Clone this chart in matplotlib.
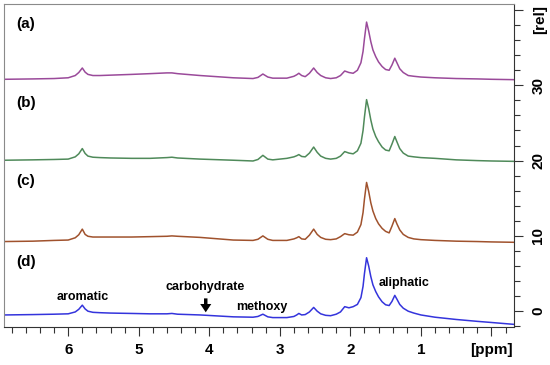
import matplotlib
matplotlib.use('Agg')
import matplotlib.pyplot as plt
from matplotlib.ticker import MultipleLocator, FixedLocator, FixedFormatter

plt.rcParams['font.family'] = ['Liberation Sans', 'DejaVu Sans']
plt.rcParams['font.weight'] = 'bold'

# 化学位移 (ppm)，四条谱线共用
ppm = [6.9, 6.5, 6.2, 6.0, 5.9, 5.85, 5.8, 5.76, 5.72, 5.65, 5.55, 5.4,
       5.1, 4.84, 4.6, 4.53, 4.45, 4.13, 3.66, 3.38, 3.31, 3.24, 3.17, 3.1,
       2.9, 2.8, 2.76, 2.73, 2.69, 2.64, 2.58, 2.52, 2.47, 2.42, 2.35, 2.28,
       2.2, 2.14, 2.08, 2.02, 1.96, 1.9, 1.85, 1.82, 1.8, 1.77,
       1.74, 1.71, 1.68, 1.64, 1.6, 1.55, 1.5, 1.45, 1.41, 1.37,
       1.34, 1.3, 1.25, 1.18, 1.1, 1.0, 0.8, 0.5, 0.2, 0.0, -0.32]

spec_a = [30.8, 30.85, 30.9, 31.0, 31.3, 31.7, 32.3, 31.75, 31.45, 31.3, 31.3, 31.35,
          31.45, 31.55, 31.65, 31.65, 31.55, 31.3, 31.0, 30.9, 31.05, 31.5, 31.1, 30.95,
          30.95, 31.2, 31.4, 31.6, 31.3, 31.15, 31.6, 32.3, 31.7, 31.3, 31.0, 30.9,
          31.0, 31.3, 31.9, 31.7, 31.6, 32.0, 33.0, 34.5, 36.2, 38.4,
          37.2, 35.8, 34.7, 33.8, 33.1, 32.5, 32.1, 32.0, 32.7, 33.6,
          33.0, 32.2, 31.7, 31.3, 31.2, 31.1, 31.0, 30.9, 30.85, 30.8, 30.75]

spec_b = [20.05, 20.1, 20.15, 20.2, 20.5, 20.9, 21.6, 20.95, 20.6, 20.45, 20.4, 20.35,
          20.3, 20.3, 20.4, 20.45, 20.35, 20.2, 20.05, 19.95, 20.15, 20.7, 20.2, 20.1,
          20.3, 20.5, 20.65, 20.8, 20.55, 20.5, 21.0, 21.8, 21.1, 20.6, 20.3, 20.2,
          20.3, 20.6, 21.2, 21.0, 20.9, 21.3, 22.3, 24.0, 25.8, 28.1,
          26.9, 25.4, 24.2, 23.2, 22.5, 21.8, 21.4, 21.3, 22.2, 23.2,
          22.5, 21.6, 21.0, 20.6, 20.5, 20.4, 20.3, 20.1, 20.0, 19.95, 19.9]

spec_c = [9.25, 9.3, 9.4, 9.45, 9.75, 10.15, 10.9, 10.2, 9.95, 9.85, 9.85, 9.85,
          9.85, 9.9, 9.95, 10.0, 9.95, 9.8, 9.45, 9.4, 9.55, 10.0, 9.55, 9.4,
          9.4, 9.6, 9.75, 9.9, 9.6, 9.55, 10.1, 10.9, 10.2, 9.8, 9.55, 9.5,
          9.6, 9.9, 10.3, 10.15, 10.1, 10.5, 11.5, 13.1, 14.9, 17.1,
          15.9, 14.4, 13.3, 12.3, 11.6, 11.0, 10.6, 10.4, 11.3, 12.3,
          11.6, 10.8, 10.2, 9.8, 9.6, 9.5, 9.4, 9.3, 9.25, 9.2, 9.15]

spec_d = [-0.5, -0.45, -0.4, -0.35, -0.1, 0.25, 0.8, 0.3, 0.0, -0.15, -0.2, -0.25,
          -0.3, -0.35, -0.35, -0.3, -0.4, -0.5, -0.75, -0.8, -0.7, -0.4, -0.75, -0.85,
          -0.85, -0.7, -0.5, -0.3, -0.5, -0.45, -0.1, 0.5, 0.0, -0.35, -0.55, -0.6,
          -0.4, -0.1, 0.6, 0.45, 0.6, 0.9, 1.8, 3.3, 5.0, 7.1,
          6.0, 4.6, 3.5, 2.6, 1.9, 1.25, 0.85, 0.75, 1.3, 2.1,
          1.6, 0.9, 0.4, 0.0, -0.25, -0.5, -0.8, -1.1, -1.35, -1.5, -1.75]

spectra = [spec_a, spec_b, spec_c, spec_d]
colors = ['#9a4a9a', '#4f8a5a', '#a0522d', '#3434dc']
panel_labels = ['(a)', '(b)', '(c)', '(d)']
label_y = [0.938, 0.693, 0.452, 0.201]

xticks = [6, 5, 4, 3, 2, 1, 0]
xticklabels = ['6', '5', '4', '3', '2', '1', '[ppm]']
yticks = [0, 10, 20, 30, 40]
yticklabels = ['0', '10', '20', '30', '']

fig = plt.figure(figsize=(5.5, 3.65), dpi=100)
ax = fig.add_axes([4 / 550, 1 - 327 / 365, 510 / 550, 323 / 365])

for s, c in zip(spectra, colors):
    ax.plot(ppm, s, color=c, lw=1.1)

ax.set_xlim(6.91, -0.32)
ax.set_ylim(-2.1, 40.8)

ax.xaxis.set_major_locator(FixedLocator(xticks))
ax.xaxis.set_major_formatter(FixedFormatter(xticklabels))
ax.xaxis.set_minor_locator(MultipleLocator(0.2))
ax.yaxis.tick_right()
ax.yaxis.set_major_locator(FixedLocator(yticks))
ax.yaxis.set_major_formatter(FixedFormatter(yticklabels))
ax.yaxis.set_minor_locator(MultipleLocator(2))
ax.tick_params(axis='both', which='major', length=6.5, width=0.8, color='#333333',
               labelsize=11)
ax.tick_params(axis='both', which='minor', length=4, width=0.8, color='#333333')
ax.tick_params(axis='x', which='major', pad=5)
ax.tick_params(axis='y', which='major', pad=6, labelrotation=90)
for lbl in ax.get_yticklabels():
    lbl.set_va('center')

for side in ['left', 'top']:
    ax.spines[side].set_color('#8a8a8a')
for side in ['right', 'bottom']:
    ax.spines[side].set_color('#333333')
for sp in ax.spines.values():
    sp.set_linewidth(0.8)

for lab, yy in zip(panel_labels, label_y):
    ax.text(0.0235, yy, lab, transform=ax.transAxes, fontsize=11,
            fontweight='bold', ha='left', va='center')

ax.text(5.79, 1.85, 'aromatic', fontsize=9, fontweight='bold', ha='center', va='center')
ax.text(4.06, 3.2, 'carbohydrate', fontsize=9, fontweight='bold', ha='center', va='center')
ax.text(3.25, 0.55, 'methoxy', fontsize=9, fontweight='bold', ha='center', va='center')
ax.text(1.24, 3.7, 'aliphatic', fontsize=9, fontweight='bold', ha='center', va='center')
# 向下的粗箭头
ax.annotate('', xy=(4.05, -0.15), xytext=(4.05, 1.7),
            arrowprops=dict(width=2.5, headwidth=8, headlength=6, color='black', lw=0))

fig.text(540 / 550, 1 - 19 / 365, '[rel]', rotation=90, fontsize=11,
         fontweight='bold', ha='center', va='center')

fig.savefig('out.png', dpi=100)
